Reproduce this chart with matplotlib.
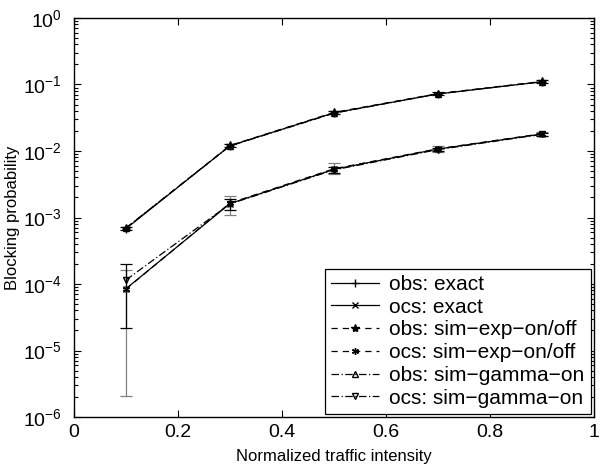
import matplotlib
matplotlib.use("Agg")
import matplotlib.pyplot as plt
from matplotlib.ticker import LogLocator, NullFormatter

plt.rcParams['font.family'] = ['Liberation Sans', 'DejaVu Sans']
plt.rcParams['mathtext.fontset'] = 'custom'
plt.rcParams['mathtext.rm'] = 'Liberation Sans'
plt.rcParams['mathtext.it'] = 'Liberation Sans:italic'

x = [0.1, 0.3, 0.5, 0.7, 0.9]
obs_exact = [6.8e-4, 1.2e-2, 3.75e-2, 7.2e-2, 1.1e-1]
ocs_exact = [8.5e-5, 1.62e-3, 5.3e-3, 1.07e-2, 1.8e-2]
obs_exp = [6.9e-4, 1.21e-2, 3.8e-2, 7.3e-2, 1.11e-1]
obs_exp_lo = [6.5e-4, 1.15e-2, 3.65e-2, 7.0e-2, 1.07e-1]
obs_exp_hi = [7.3e-4, 1.27e-2, 3.95e-2, 7.6e-2, 1.15e-1]
ocs_exp = [8.4e-5, 1.65e-3, 5.4e-3, 1.08e-2, 1.82e-2]
ocs_exp_lo = [2.1e-6, 1.1e-3, 4.5e-3, 9.8e-3, 1.7e-2]
ocs_exp_hi = [1.6e-4, 2.1e-3, 6.5e-3, 1.18e-2, 1.95e-2]
obs_gamma = [7.0e-4, 1.19e-2, 3.7e-2, 7.25e-2, 1.1e-1]
ocs_gamma = [1.15e-4, 1.6e-3, 5.2e-3, 1.05e-2, 1.78e-2]
ocs_gamma_lo = [2.2e-5, 1.3e-3, 4.7e-3, 9.9e-3, 1.7e-2]
ocs_gamma_hi = [2.0e-4, 1.9e-3, 5.8e-3, 1.12e-2, 1.87e-2]

labels = ["obs: exact", "ocs: exact", "obs: sim\u2212exp\u2212on/off",
          "ocs: sim\u2212exp\u2212on/off", "obs: sim\u2212gamma\u2212on", "ocs: sim\u2212gamma\u2212on"]

fig = plt.figure(figsize=(6.0, 4.71), dpi=100)
ax = fig.add_axes([0.1233, 0.1146, 0.8667, 0.8472])

lw = 0.9
def err(v, lo, hi):
    return [[a - b for a, b in zip(v, lo)], [b - a for a, b in zip(v, hi)]]

ax.errorbar(x, ocs_exp, yerr=err(ocs_exp, ocs_exp_lo, ocs_exp_hi), fmt='none',
            ecolor='#808080', elinewidth=lw, capsize=4, capthick=lw, zorder=2)
ax.errorbar(x, ocs_gamma, yerr=err(ocs_gamma, ocs_gamma_lo, ocs_gamma_hi), fmt='none',
            ecolor='black', elinewidth=lw, capsize=4, capthick=lw, zorder=2)
ax.errorbar(x, obs_exp, yerr=err(obs_exp, obs_exp_lo, obs_exp_hi), fmt='none',
            ecolor='black', elinewidth=lw, capsize=4, capthick=lw, zorder=2)

ax.plot(x, obs_exact, color='black', lw=lw, ls='-', marker='+', ms=6, label=labels[0])
ax.plot(x, ocs_exact, color='black', lw=lw, ls='-', marker='x', ms=4, label=labels[1])
ax.plot(x, obs_exp, color='black', lw=lw, ls=(0, (5, 4)), marker='*', ms=6, label=labels[2])
ax.plot(x, ocs_exp, color='black', lw=lw, ls=(0, (5, 4)), marker=(6, 2, 0), ms=5, label=labels[3])
ax.plot(x, obs_gamma, color='black', lw=lw, ls=(0, (6, 2, 1, 2)), marker='^', ms=5,
        mfc='none', mec='black', label=labels[4])
ax.plot(x, ocs_gamma, color='black', lw=lw, ls=(0, (6, 2, 1, 2)), marker='v', ms=5,
        mfc='none', mec='black', label=labels[5])

ax.set_yscale('log')
ax.set_xlim(0, 1)
ax.set_ylim(1e-6, 1e0)
ax.set_xticks([0, 0.2, 0.4, 0.6, 0.8, 1])
ax.set_xticklabels(['0', '0.2', '0.4', '0.6', '0.8', '1'])
ax.yaxis.set_major_locator(LogLocator(base=10, numticks=10))
ax.yaxis.set_minor_locator(LogLocator(base=10, subs=range(2, 10), numticks=10))
ax.yaxis.set_minor_formatter(NullFormatter())
ax.tick_params(which='both', direction='in', top=True, right=True, labelsize=14, width=0.8)
ax.tick_params(which='major', length=5)
ax.tick_params(which='minor', length=3)
ax.tick_params(axis='x', pad=5)
ax.tick_params(axis='y', pad=9)
for s in ax.spines.values():
    s.set_linewidth(1.0)

ax.set_xlabel('Normalized traffic intensity', fontsize=12, labelpad=6)
ax.set_ylabel('Blocking probability', fontsize=12, labelpad=2)

leg = ax.legend(loc='lower right', fontsize=15, frameon=True, fancybox=False,
                edgecolor='black', framealpha=1, borderaxespad=0.15, handlelength=2.3,
                labelspacing=0.18, borderpad=0.3, handletextpad=0.5)
leg.get_frame().set_linewidth(0.9)

fig.savefig('out.png', dpi=100)
